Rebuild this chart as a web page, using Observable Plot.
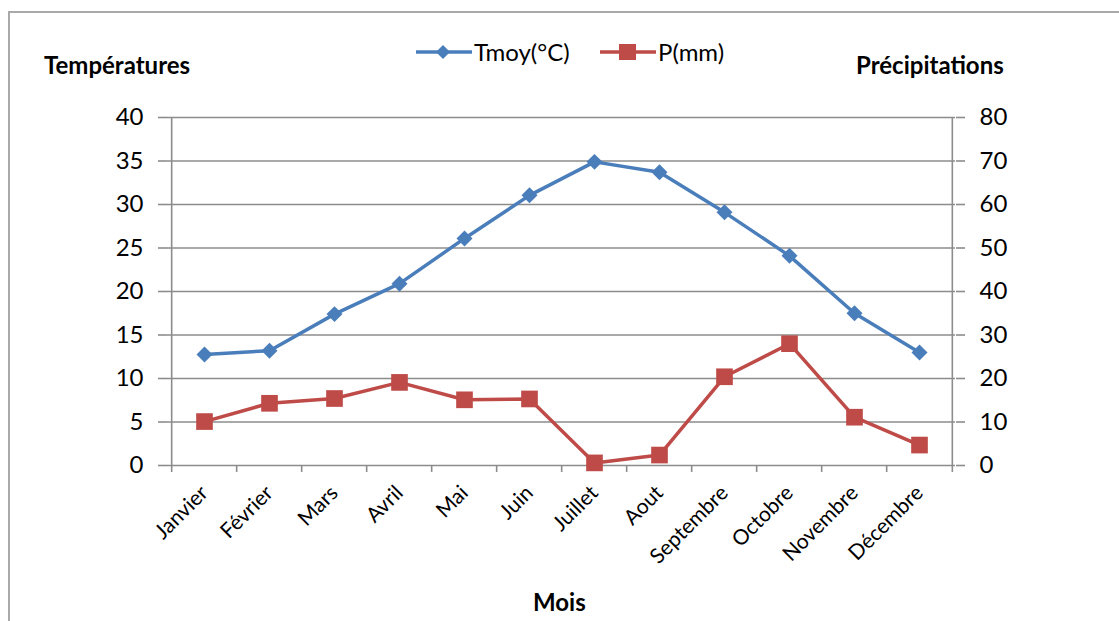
<!DOCTYPE html>
<html><head><meta charset="utf-8">
<script src="https://cdn.jsdelivr.net/npm/d3@7"></script>
<script src="https://cdn.jsdelivr.net/npm/@observablehq/plot@0.6"></script>
<style>
body{margin:0;background:#fff;font-family:Lato,"Open Sans",sans-serif;}
#wrap{position:relative;width:1119px;height:621px;overflow:hidden;background:#fff;}
#wrap > svg{position:absolute;left:0;top:0;}
.frame{position:absolute;left:8px;top:11px;width:1140px;height:660px;border:2px solid #a9a9a9;box-sizing:border-box;}
.ttl{position:absolute;font-weight:bold;font-size:24px;color:#000;line-height:1;white-space:nowrap;}
.leg{position:absolute;top:39px;font-size:24px;line-height:1;white-space:nowrap;display:flex;align-items:center;}
.leg svg{display:block;margin-right:2px;}
</style></head>
<body>
<div id="wrap">
  <div class="frame"></div>
  <div class="ttl" id="tl" style="left:44px;top:53px;">Températures</div>
  <div class="ttl" id="tr" style="left:856px;top:53px;">Précipitations</div>
  <div class="ttl" id="tx" style="left:533px;top:590px;">Mois</div>
  <div class="leg" style="left:416px;">
    <svg width="56" height="26"><line x1="0" y1="13" x2="56" y2="13" stroke="#4A7EBB" stroke-width="3.5"/><path d="M27,6 L34,13 L27,20 L20,13 Z" fill="#4A7EBB"/></svg>
    <span id="l1">Tmoy(°C)</span>
  </div>
  <div class="leg" style="left:600px;">
    <svg width="56" height="26"><line x1="0" y1="13" x2="56" y2="13" stroke="#BE4B48" stroke-width="3.5"/><rect x="19" y="5" width="17" height="16" fill="#BE4B48"/></svg>
    <span id="l2">P(mm)</span>
  </div>
</div>
<script>
const months = ["Janvier","Février","Mars","Avril","Mai","Juin","Juillet","Aout","Septembre","Octobre","Novembre","Décembre"];
const tmoy   = [12.75, 13.2, 17.4, 20.9, 26.1, 31.05, 34.9, 33.7, 29.1, 24.1, 17.5, 13.0];
const precip = [10.1, 14.3, 15.4, 19.1, 15.1, 15.3, 0.6, 2.4, 20.4, 28.0, 11.1, 4.7];
const leftTicks  = [0,5,10,15,20,25,30,35,40];
const rightTicks = [0,10,20,30,40,50,60,70,80];

const data = months.map((m,i)=>({month:m, t:tmoy[i], p:precip[i]}));
const W = 1119, H = 621, ML = 167, MR = 164, MT = 117, MB = 156;
const step = (W - ML - MR) / months.length;
const ratio = rightTicks[rightTicks.length-1] / leftTicks[leftTicks.length-1];
const grid = "#8c8c8c";
const blue = "#4A7EBB", red = "#BE4B48";

const chart = Plot.plot({
  width: W, height: H,
  marginLeft: ML, marginRight: MR, marginTop: MT, marginBottom: MB,
  style: {fontFamily: "Lato, 'Open Sans', sans-serif", background: "transparent", overflow: "visible", color: "#000"},
  x: {type: "point", domain: months, padding: 0.5},
  y: {domain: [0, 40]},
  marks: [
    Plot.ruleY(leftTicks, {stroke: grid, strokeWidth: 1.6}),
    Plot.ruleX([months[0]], {y1: -0.8, y2: 40, dx: -step/2, stroke: grid, strokeWidth: 1.6}),
    Plot.ruleX([months[months.length-1]], {y1: -0.8, y2: 40, dx: step/2, stroke: grid, strokeWidth: 1.6}),
    Plot.ruleX(months.slice(1), {y1: -0.8, y2: 0, dx: -step/2, stroke: grid, strokeWidth: 1.6}),
    Plot.axisY(leftTicks, {anchor: "left", tickSize: 9, tickPadding: 15, fontSize: 24, stroke: grid, strokeWidth: 1.6, fill: "#000", label: null}),
    Plot.axisY(rightTicks.map(v => v / ratio), {anchor: "right", tickSize: 9, tickPadding: 15, fontSize: 24, tickFormat: d => d * ratio, stroke: grid, strokeWidth: 1.6, fill: "#000", label: null}),
    Plot.axisX(months, {anchor: "bottom", tickSize: 0, tickPadding: 24, tickRotate: -45, fontSize: 21, fill: "#000", label: null}),
    Plot.line(data, {x: "month", y: "t", stroke: blue, strokeWidth: 3.5}),
    Plot.dot(data, {x: "month", y: "t", symbol: "diamond2", r: 7.2, fill: blue, stroke: "none"}),
    Plot.line(data, {x: "month", y: d => d.p / ratio, stroke: red, strokeWidth: 3.5}),
    Plot.dot(data, {x: "month", y: d => d.p / ratio, symbol: "square", r: 9.4, fill: red, stroke: "none"})
  ]
});
document.getElementById("wrap").appendChild(chart);
</script>
</body></html>
